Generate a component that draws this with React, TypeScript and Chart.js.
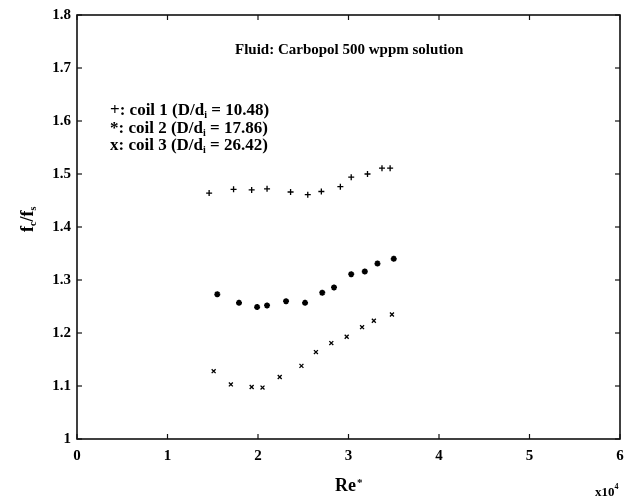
import React, { useEffect, useRef } from 'react';
import { Chart, registerables } from 'chart.js';

Chart.register(...registerables);

// Re* (x10^4)
const coil1X = [1.46, 1.73, 1.93, 2.10, 2.36, 2.55, 2.70, 2.91, 3.03, 3.21, 3.37, 3.46];
const coil1Y = [1.464, 1.471, 1.470, 1.472, 1.466, 1.461, 1.467, 1.476, 1.494, 1.500, 1.511, 1.511];
const coil2X = [1.55, 1.79, 1.99, 2.10, 2.31, 2.52, 2.71, 2.84, 3.03, 3.18, 3.32, 3.50];
const coil2Y = [1.273, 1.257, 1.249, 1.252, 1.260, 1.257, 1.276, 1.286, 1.311, 1.316, 1.331, 1.340];
const coil3X = [1.51, 1.70, 1.93, 2.05, 2.24, 2.48, 2.64, 2.81, 2.98, 3.15, 3.28, 3.48];
const coil3Y = [1.128, 1.103, 1.098, 1.097, 1.117, 1.138, 1.164, 1.181, 1.193, 1.211, 1.223, 1.235];

const xTicks = [0, 1, 2, 3, 4, 5, 6];
const yTicks = [1, 1.1, 1.2, 1.3, 1.4, 1.5, 1.6, 1.7, 1.8];

const titleText = 'Fluid: Carbopol 500 wppm solution';
const legendLines = [
  ['+: coil 1 (D/d', 'i', ' = 10.48)'],
  ['*: coil 2 (D/d', 'i', ' = 17.86)'],
  ['x: coil 3 (D/d', 'i', ' = 26.42)'],
];

const FONT = '"Liberation Serif", "Times New Roman", serif';

const toPts = (xs: number[], ys: number[]) => xs.map((x, i) => ({ x, y: ys[i] }));

const decorPlugin = {
  id: 'decor',
  afterDraw(chart: any) {
    const { ctx, chartArea, scales } = chart;
    const { left, right, top, bottom } = chartArea;
    const xs = scales.x;
    const ys = scales.y;
    ctx.save();
    ctx.strokeStyle = '#111';
    ctx.lineWidth = 1.6;
    ctx.strokeRect(left, top, right - left, bottom - top);
    ctx.lineWidth = 1.2;
    const tl = 5;
    const line = (a: number, b: number, c: number, d: number) => {
      ctx.beginPath();
      ctx.moveTo(a, b);
      ctx.lineTo(c, d);
      ctx.stroke();
    };
    xTicks.forEach((v) => {
      const p = xs.getPixelForValue(v);
      line(p, bottom, p, bottom - tl);
      line(p, top, p, top + tl);
    });
    yTicks.forEach((v) => {
      const p = ys.getPixelForValue(v);
      line(left, p, left + tl, p);
      line(right, p, right - tl, p);
    });

    ctx.fillStyle = '#000';
    ctx.textBaseline = 'alphabetic';
    // title
    ctx.font = `bold 15px ${FONT}`;
    ctx.textAlign = 'left';
    ctx.fillText(titleText, 235, 54);

    // legend text with subscripts
    const drawSub = (parts: string[], x: number, y: number, size: number) => {
      let cx = x;
      ctx.font = `bold ${size}px ${FONT}`;
      ctx.fillText(parts[0], cx, y);
      cx += ctx.measureText(parts[0]).width;
      ctx.font = `bold ${Math.round(size * 0.6)}px ${FONT}`;
      ctx.fillText(parts[1], cx, y + size * 0.2);
      cx += ctx.measureText(parts[1]).width;
      ctx.font = `bold ${size}px ${FONT}`;
      ctx.fillText(parts[2], cx, y);
    };
    const lys = [115, 133, 150];
    legendLines.forEach((parts, i) => drawSub(parts, 110, lys[i], 17));

    // x axis title Re*
    ctx.font = `bold 18px ${FONT}`;
    ctx.fillText('Re', 335, 491);
    const rw = ctx.measureText('Re').width;
    ctx.font = `bold 11px ${FONT}`;
    ctx.fillText('*', 335 + rw + 1, 486);

    // x10^4
    ctx.font = `bold 13px ${FONT}`;
    ctx.fillText('x10', 595, 496);
    const xw = ctx.measureText('x10').width;
    ctx.font = `bold 8px ${FONT}`;
    ctx.fillText('4', 595 + xw, 489);

    // y axis title f_c/f_s rotated
    ctx.save();
    ctx.translate(33, 232);
    ctx.rotate(-Math.PI / 2);
    let cx = 0;
    const seg = (t: string, size: number, dy: number) => {
      ctx.font = `bold ${size}px ${FONT}`;
      ctx.fillText(t, cx, dy);
      cx += ctx.measureText(t).width;
    };
    seg('f', 18, 0);
    seg('c', 10, 3);
    seg('/f', 18, 0);
    seg('s', 10, 3);
    ctx.restore();

    ctx.restore();
  },
};

export default function App() {
  const ref = useRef<HTMLCanvasElement | null>(null);
  useEffect(() => {
    document.body.style.margin = '0';
    const canvas = ref.current;
    if (!canvas) return;
    const tickFont = { family: FONT, size: 15, weight: 'bold' as const };
    const chart = new Chart(canvas, {
      type: 'scatter',
      data: {
        datasets: [
          {
            label: 'coil 1',
            data: toPts(coil1X, coil1Y),
            pointStyle: 'cross',
            radius: 3,
            borderWidth: 1.3,
            borderColor: '#000',
            backgroundColor: '#000',
          },
          {
            label: 'coil 2',
            data: toPts(coil2X, coil2Y),
            pointStyle: 'star',
            radius: 3,
            borderWidth: 1.8,
            borderColor: '#000',
            backgroundColor: '#000',
          },
          {
            label: 'coil 3',
            data: toPts(coil3X, coil3Y),
            pointStyle: 'crossRot',
            radius: 2.8,
            borderWidth: 1.3,
            borderColor: '#000',
            backgroundColor: '#000',
          },
        ],
      },
      options: {
        responsive: false,
        animation: false,
        layout: { padding: { top: 15, right: 15, left: 0, bottom: 0 } },
        plugins: {
          legend: { display: false },
          tooltip: { enabled: false },
          title: { display: false },
        },
        scales: {
          x: {
            type: 'linear',
            min: 0,
            max: 6,
            afterFit: (s: any) => {
              s.height = 59;
            },
            afterBuildTicks: (s: any) => {
              s.ticks = xTicks.map((v) => ({ value: v }));
            },
            ticks: {
              color: '#000',
              font: tickFont,
              padding: 8,
              maxRotation: 0,
              callback: (v: any) => String(v),
            },
            grid: { display: false, drawTicks: false },
            border: { display: false },
          },
          y: {
            type: 'linear',
            min: 1,
            max: 1.8,
            afterFit: (s: any) => {
              s.width = 77;
            },
            afterBuildTicks: (s: any) => {
              s.ticks = yTicks.map((v) => ({ value: v }));
            },
            ticks: {
              color: '#000',
              font: tickFont,
              padding: 6,
              callback: (v: any) => (Number(v) === 1 ? '1' : Number(v).toFixed(1)),
            },
            grid: { display: false, drawTicks: false },
            border: { display: false },
          },
        },
      },
      plugins: [decorPlugin],
    });
    return () => chart.destroy();
  }, []);
  return (
    <div style={{ width: 635, height: 498, background: '#fff' }}>
      <canvas ref={ref} width={635} height={498} style={{ display: 'block', width: 635, height: 498 }} />
    </div>
  );
}
